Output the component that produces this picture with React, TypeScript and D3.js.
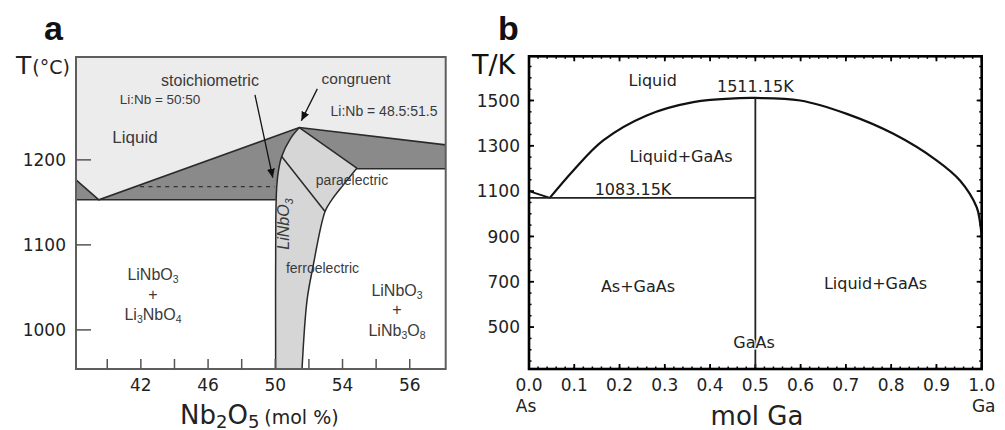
import * as d3 from 'd3'

type Pt = [number, number]

// ---- panel a: Li2O-Nb2O5 near LiNbO3 (x = mol% Nb2O5, y = °C)
const A_X_TICKS = [40, 42, 44, 46, 48, 50, 52, 54, 56, 58]
const A_X_LABEL_AT = [42, 46, 50, 54, 58]
const A_X_LABEL_TEXT = ['42', '46', '50', '54', '56']
const A_Y_TICKS = [1000, 1100, 1200]

const A_LIQUIDUS: Pt[] = [[38.14, 1176.5], [39.5, 1153], [51.43, 1238], [60.14, 1217.6]]
const A_SOLIDUS_LEFT: Pt[] = [[38.14, 1153], [50.03, 1153]]
const A_SOLIDUS_RIGHT: Pt[] = [[54.85, 1189.6], [60.14, 1189.6]]
const A_LN_LEFT: Pt[] = [[51.43, 1238], [50.92, 1225.5], [50.38, 1203.9], [50.18, 1186.2], [50.08, 1166.7], [50.03, 1130], [50.02, 954]]
const A_LN_RIGHT: Pt[] = [[54.85, 1190.2], [54.05, 1170.6], [53.36, 1152.9], [52.96, 1139.2], [52.24, 1074], [51.89, 1035], [51.59, 954]]
const A_CURIE: Pt[] = [[50.38, 1203.9], [52.96, 1139.2]]
const A_STOICH_DASH: Pt[] = [[41.95, 1168.6], [49.98, 1168.6]]
const A_ARROW_STOICH: Pt[] = [[48.79, 1276.5], [49.85, 1179]]
const A_ARROW_CONG: Pt[] = [[52.5, 1283.5], [51.55, 1246]]

// ---- panel b: As-Ga (x = mol Ga, y = K)
const B_X_TICKS = [0, 0.1, 0.2, 0.3, 0.4, 0.5, 0.6, 0.7, 0.8, 0.9, 1.0]
const B_Y_TICKS = [500, 700, 900, 1100, 1300, 1500]
const B_LIQ_AS: Pt[] = [[0, 1100], [0.046, 1070]]
const B_LIQ: Pt[] = [
  [0.046, 1070], [0.098, 1191], [0.164, 1323.6], [0.26, 1433.8], [0.363, 1492.5], [0.466, 1510],
  [0.5, 1511.15], [0.599, 1500], [0.702, 1441], [0.805, 1353], [0.901, 1235], [0.952, 1147],
  [0.989, 1029], [0.996, 966], [1, 900]
]
const B_EUTECTIC: Pt[] = [[0, 1070], [0.5, 1070]]
const B_GAAS: Pt[] = [[0.5, 315], [0.5, 1511.15]]

const AX_FONT = 'DejaVu Sans, Verdana, sans-serif'
const AN_FONT = 'Liberation Sans, Arial, sans-serif'

export default function App() {
  const xA = d3.scaleLinear().domain([38.14, 60.14]).range([76, 445.7])
  const yA = d3.scaleLinear().domain([954, 1321]).range([369, 57])
  const xB = d3.scaleLinear().domain([0, 1]).range([529, 981.7])
  const yB = d3.scaleLinear().domain([315, 1695]).range([369, 56.3])

  const lineA = d3.line<Pt>().x(d => xA(d[0])).y(d => yA(d[1]))
  const curveA = d3.line<Pt>().x(d => xA(d[0])).y(d => yA(d[1])).curve(d3.curveCatmullRom)
  const lineB = d3.line<Pt>().x(d => xB(d[0])).y(d => yB(d[1]))
  const curveB = d3.line<Pt>().x(d => xB(d[0])).y(d => yB(d[1])).curve(d3.curveCatmullRom)

  const [ax0, ax1] = xA.range()
  const [ay0, ay1] = [yA.range()[1], yA.range()[0]]
  const [bx0, bx1] = xB.range()
  const [by0, by1] = [yB.range()[1], yB.range()[0]]

  const peak = A_LIQUIDUS[2]
  // LiNbO3 single-phase field
  const lnPath =
    lineA([peak, A_LN_RIGHT[0]]) +
    curveA(A_LN_RIGHT)!.replace(/^M/, 'L') +
    curveA([...A_LN_LEFT].reverse())!.replace(/^M/, 'L') + 'Z'
  const liquidPath = lineA([
    [38.14, 1321], [60.14, 1321], [60.14, 1189.6], [54.85, 1189.6], [50.5, 1153], [38.14, 1153]
  ]) + 'Z'
  const darkLeft = lineA([A_LIQUIDUS[0], A_LIQUIDUS[1], [38.14, 1153]]) + 'Z'
  const darkMid = lineA([A_LIQUIDUS[1], peak, [50.03, 1153]]) + 'Z'
  const darkRight = lineA([peak, A_LIQUIDUS[3], A_SOLIDUS_RIGHT[1], A_SOLIDUS_RIGHT[0]]) + 'Z'

  const lc = '#2a2a2a'
  const tc = '#3a3a3a'

  return (
    <div style={{ position: 'absolute', left: 0, top: 0 }}>
      <svg width={1005} height={430} style={{ display: 'block', background: '#fff' }}>
        <defs>
          <marker id="ah" viewBox="0 0 10 10" refX="10" refY="5" markerWidth="9" markerHeight="9"
            markerUnits="userSpaceOnUse" orient="auto">
            <path d="M0,0.5 L10,5 L0,9.5 Z" fill="#111" />
          </marker>
        </defs>

        {/* ---------- panel a ---------- */}
        <text x={44} y={40} fontFamily={AN_FONT} fontWeight="bold" fontSize={34} fill="#111">a</text>
        <text x={16} y={74} fontFamily={AX_FONT} fill="#222">
          <tspan fontSize={25}>T</tspan><tspan fontSize={19} dx={1}>(°C)</tspan>
        </text>

        <rect x={ax0} y={ay0} width={ax1 - ax0} height={ay1 - ay0} fill="#fff" />
        <path d={liquidPath} fill="#ececec" />
        <path d={darkLeft} fill="#8a8a8a" />
        <path d={darkMid} fill="#8a8a8a" />
        <path d={darkRight} fill="#8a8a8a" />
        <path d={lnPath} fill="#d6d6d6" stroke={lc} strokeWidth={1.5} strokeLinejoin="round" />
        <path d={lineA(A_LIQUIDUS)!} fill="none" stroke={lc} strokeWidth={1.6} />
        <path d={lineA(A_SOLIDUS_LEFT)!} fill="none" stroke={lc} strokeWidth={1.5} />
        <path d={lineA(A_SOLIDUS_RIGHT)!} fill="none" stroke={lc} strokeWidth={1.5} />
        <path d={lineA(A_CURIE)!} fill="none" stroke={lc} strokeWidth={1.5} />
        <path d={lineA(A_STOICH_DASH)!} fill="none" stroke="#333" strokeWidth={1.3} strokeDasharray="4 4.4" />
        <rect x={ax0} y={ay0} width={ax1 - ax0} height={ay1 - ay0} fill="none" stroke="#5e5e5e" strokeWidth={2} />

        {A_Y_TICKS.map(t => (
          <g key={t}>
            <line x1={ax0} x2={ax0 + 15} y1={yA(t)} y2={yA(t)} stroke="#555" strokeWidth={1.5} />
            <text x={66} y={yA(t) + 6.5} textAnchor="end" fontFamily={AX_FONT} fontSize={17} fill="#222">{t}</text>
          </g>
        ))}
        {A_X_TICKS.map(t => (
          <line key={t} x1={xA(t)} x2={xA(t)} y1={ay1} y2={ay1 - 10} stroke="#555" strokeWidth={1.5} />
        ))}
        {A_X_LABEL_AT.map((t, i) => (
          <text key={t} x={xA(t)} y={390.5} textAnchor="middle" fontFamily={AX_FONT} fontSize={17} fill="#222">
            {A_X_LABEL_TEXT[i]}
          </text>
        ))}
        <text x={180} y={424} fontFamily={AX_FONT} fill="#222">
          <tspan fontSize={26}>Nb</tspan><tspan fontSize={18} dy={4}>2</tspan>
          <tspan fontSize={26} dy={-4}>O</tspan><tspan fontSize={18} dy={4}>5</tspan>
          <tspan fontSize={19} dy={-4} dx={5}>(mol %)</tspan>
        </text>

        <path d={lineA(A_ARROW_STOICH)!} stroke="#111" strokeWidth={1.3} markerEnd="url(#ah)" />
        <path d={lineA(A_ARROW_CONG)!} stroke="#111" strokeWidth={1.3} markerEnd="url(#ah)" />

        <g fontFamily={AN_FONT} fill={tc}>
          <text x={210} y={86} textAnchor="middle" fontSize={16}>stoichiometric</text>
          <text x={160} y={104} textAnchor="middle" fontSize={13.5}>Li:Nb = 50:50</text>
          <text x={135} y={143} textAnchor="middle" fontSize={17}>Liquid</text>
          <text x={356} y={84} textAnchor="middle" fontSize={15.5}>congruent</text>
          <text x={384} y={116} textAnchor="middle" fontSize={14}>Li:Nb = 48.5:51.5</text>
          <text x={352} y={185} textAnchor="middle" fontSize={14}>paraelectric</text>
          <text x={322.5} y={272.5} textAnchor="middle" fontSize={14}>ferroelectric</text>
          <text transform="translate(289,224) rotate(-90)" textAnchor="middle" fontSize={16} fontStyle="italic">
            LiNbO<tspan fontSize={11} dy={4}>3</tspan>
          </text>
          <text x={153} y={279.5} textAnchor="middle" fontSize={16}>
            LiNbO<tspan fontSize={10.5} dy={3}>3</tspan>
          </text>
          <text x={153} y={300} textAnchor="middle" fontSize={16}>+</text>
          <text x={153} y={319.5} textAnchor="middle" fontSize={16}>
            Li<tspan fontSize={10.5} dy={3}>3</tspan><tspan dy={-3}>NbO</tspan><tspan fontSize={10.5} dy={3}>4</tspan>
          </text>
          <text x={397} y={295.5} textAnchor="middle" fontSize={16}>
            LiNbO<tspan fontSize={10.5} dy={3}>3</tspan>
          </text>
          <text x={397} y={315} textAnchor="middle" fontSize={16}>+</text>
          <text x={397} y={335.5} textAnchor="middle" fontSize={16}>
            LiNb<tspan fontSize={10.5} dy={3}>3</tspan><tspan dy={-3}>O</tspan><tspan fontSize={10.5} dy={3}>8</tspan>
          </text>
        </g>

        {/* ---------- panel b ---------- */}
        <text x={498} y={40} fontFamily={AN_FONT} fontWeight="bold" fontSize={34} fill="#111">b</text>
        <text x={472} y={74} fontFamily={AX_FONT} fontSize={27} fill="#111">T/K</text>

        {xB.ticks(50).map(t => (
          <g key={'mx' + t}>
            <line x1={xB(t)} x2={xB(t)} y1={by1} y2={by1 - 2.5} stroke="#000" strokeWidth={1.5} />
            <line x1={xB(t)} x2={xB(t)} y1={by0} y2={by0 + 2.5} stroke="#000" strokeWidth={1.5} />
          </g>
        ))}
        {B_X_TICKS.map(t => (
          <g key={'x' + t}>
            <line x1={xB(t)} x2={xB(t)} y1={by1} y2={by1 - 5} stroke="#000" strokeWidth={1.8} />
            <line x1={xB(t)} x2={xB(t)} y1={by0} y2={by0 + 5} stroke="#000" strokeWidth={1.8} />
            <text x={xB(t)} y={390.7} textAnchor="middle" fontFamily={AX_FONT} fontSize={17} fill="#222">
              {d3.format('.1f')(t)}
            </text>
          </g>
        ))}
        {yB.ticks(30).map(t => (
          <g key={'my' + t}>
            <line x1={bx0} x2={bx0 + 2.5} y1={yB(t)} y2={yB(t)} stroke="#000" strokeWidth={1.5} />
            <line x1={bx1} x2={bx1 - 2.5} y1={yB(t)} y2={yB(t)} stroke="#000" strokeWidth={1.5} />
          </g>
        ))}
        {B_Y_TICKS.map(t => (
          <g key={'y' + t}>
            <line x1={bx0} x2={bx0 + 5} y1={yB(t)} y2={yB(t)} stroke="#000" strokeWidth={1.8} />
            <line x1={bx1} x2={bx1 - 5} y1={yB(t)} y2={yB(t)} stroke="#000" strokeWidth={1.8} />
            <text x={520} y={yB(t) + 6.3} textAnchor="end" fontFamily={AX_FONT} fontSize={17} fill="#222">{t}</text>
          </g>
        ))}

        <path d={lineB(B_LIQ_AS)!} fill="none" stroke="#111" strokeWidth={2} />
        <path d={curveB(B_LIQ)!} fill="none" stroke="#111" strokeWidth={2.2} />
        <path d={lineB(B_EUTECTIC)!} fill="none" stroke="#222" strokeWidth={1.8} />
        <path d={lineB(B_GAAS)!} fill="none" stroke="#222" strokeWidth={1.8} />
        <rect x={bx0} y={by0} width={bx1 - bx0} height={by1 - by0} fill="none" stroke="#000" strokeWidth={2.6} />

        <g fontFamily={AX_FONT} fontSize={16} fill="#222" textAnchor="middle">
          <text x={652.7} y={86}>Liquid</text>
          <text x={755.3} y={91.7}>1511.15K</text>
          <text x={681} y={162}>Liquid+GaAs</text>
          <text x={633} y={195}>1083.15K</text>
          <text x={638} y={291.7}>As+GaAs</text>
          <text x={754} y={348} stroke="#fff" strokeWidth={3} paintOrder="stroke" strokeOpacity={0.7}>GaAs</text>
          <text x={875.5} y={288.5}>Liquid+GaAs</text>
          <text x={526} y={412} fontSize={17}>As</text>
          <text x={983.7} y={412} fontSize={17}>Ga</text>
        </g>
        <text x={757} y={425} textAnchor="middle" fontFamily={AX_FONT} fontSize={26} fill="#222">mol Ga</text>
      </svg>
    </div>
  )
}
